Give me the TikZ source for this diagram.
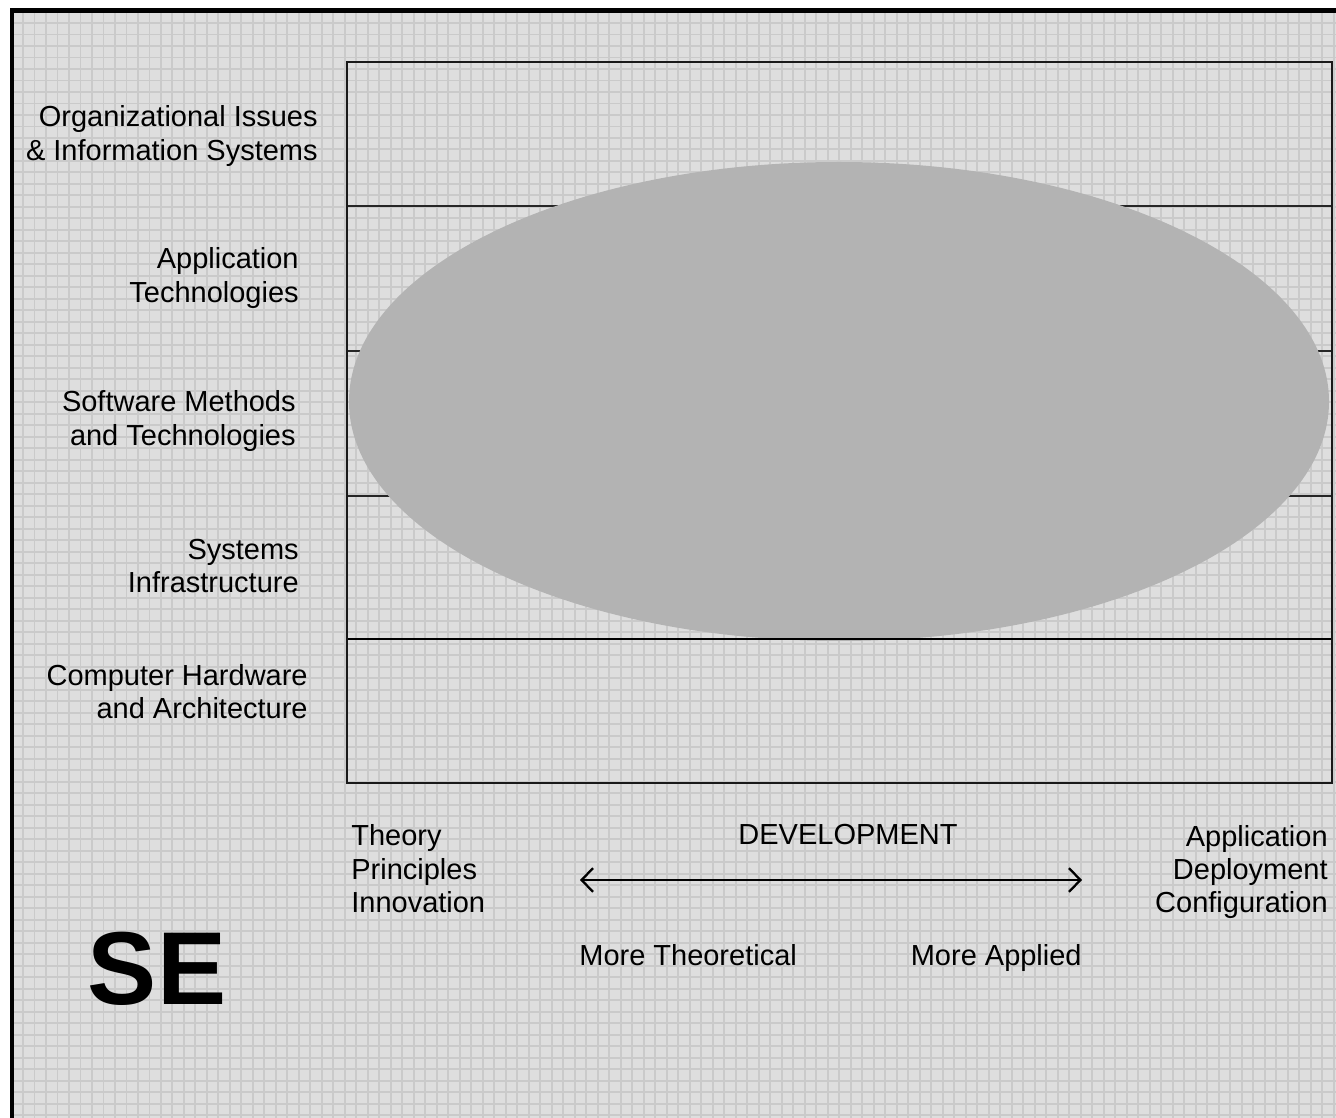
\documentclass[tikz,border=0pt]{standalone}
\usepackage{fontspec}
\setmainfont{Liberation Sans}
\usepackage{xcolor}
\usetikzlibrary{arrows.meta,positioning}

\definecolor{paper}{HTML}{DEDEDE}
\definecolor{gridgray}{HTML}{CACACA}
\definecolor{blobgray}{HTML}{B3B3B3}

\begin{document}
\begin{tikzpicture}[x=0.02cm,y=-0.02cm,font=\fontsize{16.5pt}{18.8pt}\selectfont]
  \tikzset{area/.style={anchor=east,align=right,inner sep=0pt},
           band/.style={line width=1.6pt,black!85},
           axislbl/.style={inner sep=0pt,font=\fontsize{16.5pt}{19pt}\selectfont}}
  \useasboundingbox (0,0) rectangle (1336,1118);

  % background sheet with grid
  \fill[paper] (12,10) rectangle (1336,1118);
  \draw[gridgray,line width=1.1pt,step=0.23cm] (14,13) grid (1336,1118);
  \draw[line width=2.3pt] (12,1118) -- (12,10.5) -- (1336,10.5);

  % knowledge areas (bands)
  \coordinate (tl) at (347,62);
  \coordinate (br) at (1332,783);
  \foreach \y in {206,351,496} \draw[band] (347,\y) -- (1332,\y);
  \fill[blobgray] (839,401.5) ellipse [x radius=490, y radius=239.5];
  \draw[band,black] (347,639) -- (1332,639);
  \draw[line width=1.6pt,black!90] (tl) rectangle (br);

  \node[area] (org)  at (318,136) {Organizational Issues\\\& Information Systems};
  \node[area] (app)  at (299,278) {Application\\Technologies};
  \node[area] (soft) at (296,421) {Software Methods\\and Technologies};
  \node[area] (sys)  at (299,566) {Systems\\Infrastructure};
  \node[area] (hw)   at (308,692) {Computer Hardware\\and Architecture};

  % development axis
  \node[axislbl,anchor=west,align=left]   (theory) at (351,869) {Theory\\Principles\\Innovation};
  \node[axislbl,anchor=east,align=right]  (deploy) at (1328,872) {Application\\Deployment\\Configuration};
  \node[axislbl] (dev) at (848,835) {DEVELOPMENT};
  \node[axislbl,anchor=base west] (theo) at (579,965) {More Theoretical};
  \node[axislbl,anchor=base east] (appl) at (1082,965) {More Applied};
  \coordinate (lend) at (580,880);
  \coordinate (rend) at (1082,880);
  \draw[{Straight Barb[length=6.5pt,width=13.5pt,line width=1.3pt]}-{Straight Barb[length=6.5pt,width=13.5pt,line width=1.3pt]},line width=1.6pt] (lend) -- (rend);

  \node[font=\fontsize{59pt}{59pt}\selectfont\bfseries,inner sep=0pt] (se) at (157,969) {SE};
\end{tikzpicture}
\end{document}
